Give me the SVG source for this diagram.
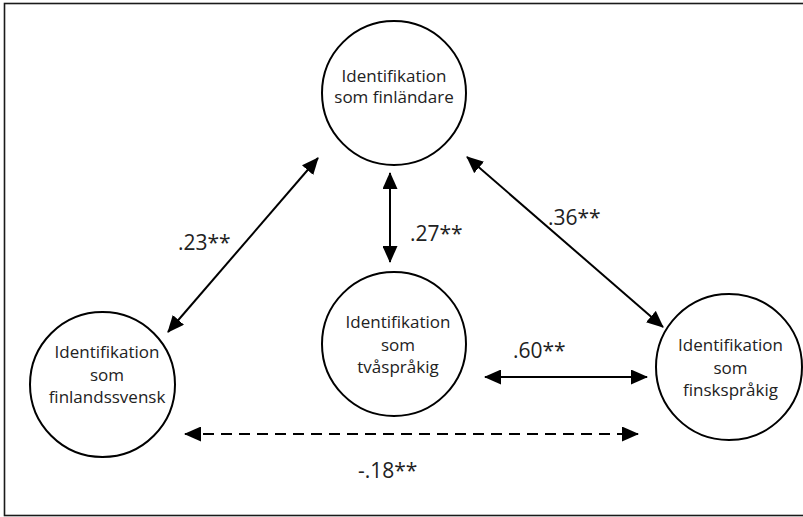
<svg xmlns="http://www.w3.org/2000/svg" width="803" height="517" viewBox="0 0 803 517">
<style>
.frame{fill:#fff;stroke:#1a1a1a;stroke-width:1.6}
.node circle{fill:#fff;stroke:#000;stroke-width:2}
text{font-variant-ligatures:none;fill:#222}
.node text{font-family:"Open Sans","Noto Sans","Liberation Sans",sans-serif;font-size:17px;text-anchor:middle}
.lbl{font-family:"Open Sans","Noto Sans","Liberation Sans",sans-serif;font-size:21px}
.edge{stroke:#000;stroke-width:2;fill:none;marker-start:url(#ah);marker-end:url(#ah)}
.dash{stroke-dasharray:11 7}
</style>
<defs>
<marker id="ah" markerUnits="userSpaceOnUse" viewBox="0 0 17 15" markerWidth="17" markerHeight="15" refX="16" refY="7.5" orient="auto-start-reverse">
<path d="M0,0 L17,7.5 L0,15 z" fill="#000"/>
</marker>
</defs>
<rect class="frame" x="4.5" y="3.5" width="820" height="512"/>
<g id="n-finlandare" class="node">
<circle cx="394" cy="93" r="72"/>
<text x="394" y="82">Identifikation</text>
<text x="394" y="103">som finländare</text>
</g>
<g id="n-finlandssvensk" class="node">
<circle cx="102.5" cy="384.5" r="72.5"/>
<text x="107" y="358">Identifikation</text>
<text x="107" y="381">som</text>
<text x="107" y="403">finlandssvensk</text>
</g>
<g id="n-tvasprakig" class="node">
<circle cx="394" cy="344" r="72"/>
<text x="398" y="328">Identifikation</text>
<text x="398" y="351">som</text>
<text x="398" y="373">tvåspråkig</text>
</g>
<g id="n-finsksprakig" class="node">
<circle cx="729" cy="367" r="73"/>
<text x="730.5" y="351">Identifikation</text>
<text x="730.5" y="374">som</text>
<text x="730.5" y="396">finskspråkig</text>
</g>
<g id="connectors">
<line class="edge" x1="168" y1="332" x2="318" y2="158"/>
<line class="edge" x1="390" y1="173" x2="390" y2="262"/>
<line class="edge" x1="467" y1="157" x2="663" y2="327"/>
<line class="edge" x1="485" y1="377" x2="647" y2="377"/>
<line class="edge dash" x1="185" y1="434" x2="638" y2="434"/>
<text class="lbl" x="178" y="250">.23**</text>
<text class="lbl" x="410" y="241">.27**</text>
<text class="lbl" x="548" y="225">.36**</text>
<text class="lbl" x="513" y="358">.60**</text>
<text class="lbl" x="358" y="478">-.18**</text>
</g>
</svg>
